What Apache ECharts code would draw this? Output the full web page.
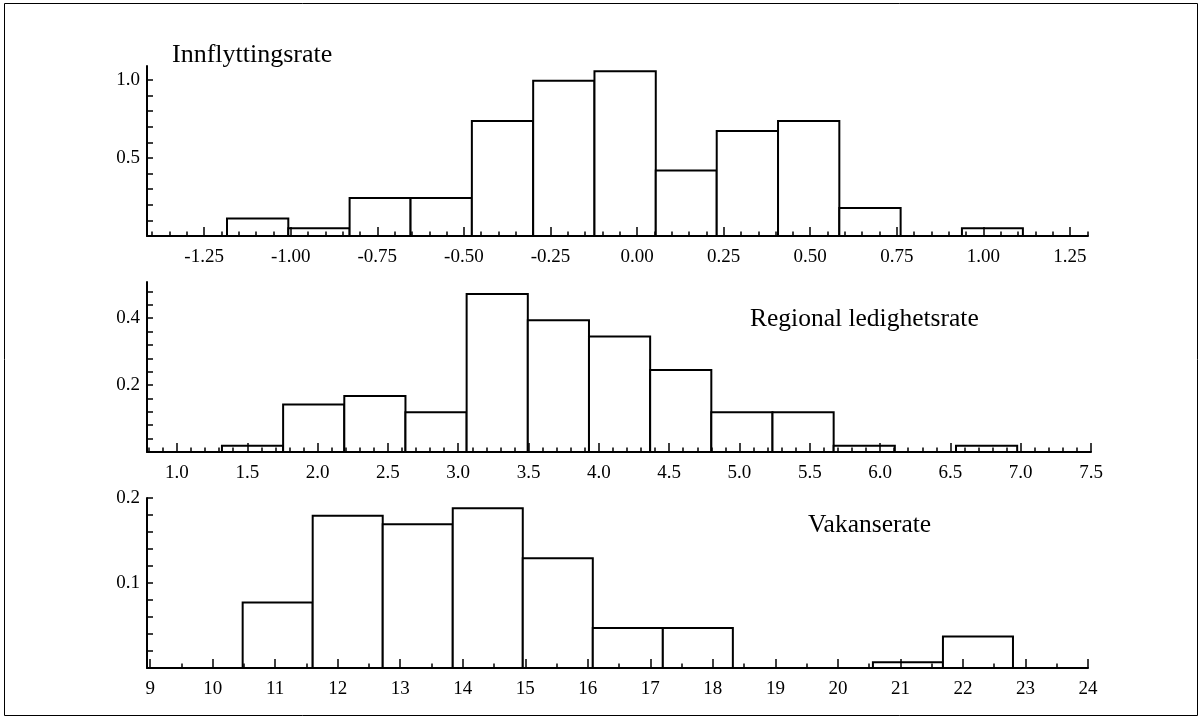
<!DOCTYPE html>
<html>
<head>
<meta charset="utf-8">
<script src="https://cdn.jsdelivr.net/npm/echarts@6/dist/echarts.min.js"></script>
<style>
html,body{margin:0;padding:0;background:#fff;}
#chart{width:1203px;height:720px;}
</style>
</head>
<body>
<div id="chart"></div>
<script>
// ---- Panel 1: Innflyttingsrate ----
const innflyttingEdges = [-1.184, -1.007, -0.830, -0.654, -0.477, -0.300, -0.123, 0.054, 0.230, 0.407, 0.584, 0.761, 0.938, 1.114];
const innflyttingDensity = [0.112, 0.049, 0.243, 0.243, 0.737, 0.995, 1.055, 0.419, 0.673, 0.737, 0.180, 0, 0.049];
const innflyttingXTicks = [-1.25, -1.00, -0.75, -0.50, -0.25, 0.00, 0.25, 0.50, 0.75, 1.00, 1.25];
const innflyttingYLabels = [0.5, 1.0];

// ---- Panel 2: Regional ledighetsrate ----
const ledighetEdges = [1.320, 1.755, 2.190, 2.625, 3.060, 3.495, 3.930, 4.365, 4.800, 5.235, 5.670, 6.105, 6.540, 6.975];
const ledighetDensity = [0.019, 0.142, 0.167, 0.119, 0.472, 0.394, 0.345, 0.245, 0.119, 0.119, 0.019, 0, 0.019];
const ledighetXTicks = [1.0, 1.5, 2.0, 2.5, 3.0, 3.5, 4.0, 4.5, 5.0, 5.5, 6.0, 6.5, 7.0, 7.5];
const ledighetYLabels = [0.2, 0.4];

// ---- Panel 3: Vakanserate ----
const vakanseEdges = [10.48, 11.60, 12.72, 13.84, 14.96, 16.08, 17.20, 18.32, 19.44, 20.56, 21.68, 22.80];
const vakanseDensity = [0.077, 0.179, 0.169, 0.188, 0.129, 0.047, 0.047, 0, 0, 0.0067, 0.037];
const vakanseXTicks = [9, 10, 11, 12, 13, 14, 15, 16, 17, 18, 19, 20, 21, 22, 23, 24];
const vakanseYLabels = [0.1, 0.2];

const panelTitles = ['Innflyttingsrate', 'Regional ledighetsrate', 'Vakanserate'];

function steps(from, to, step) {
  const out = [];
  const n = Math.round((to - from) / step);
  for (let i = 0; i <= n; i++) out.push(+(from + i * step).toFixed(6));
  return out;
}
function binsToData(edges, vals) {
  const d = [];
  for (let i = 0; i < vals.length; i++) {
    if (vals[i] > 0) d.push([edges[i], edges[i + 1], vals[i]]);
  }
  return d;
}

const FONT = 'Liberation Serif';
const panels = [
  { grid: {left: 147, top: 66, width: 941, height: 170}, xmin: -1.415, xmax: 1.302, major: innflyttingXTicks,
    minor: steps(-1.40, 1.30, 0.05), xdec: 2, ymax: 1.089, ylabels: innflyttingYLabels, yticks: steps(0.1, 1.0, 0.1),
    data: binsToData(innflyttingEdges, innflyttingDensity) },
  { grid: {left: 147, top: 282, width: 944, height: 170}, xmin: 0.787, xmax: 7.5, major: ledighetXTicks,
    minor: steps(0.8, 7.4, 0.1), xdec: 1, ymax: 0.508, ylabels: ledighetYLabels, yticks: steps(0.04, 0.48, 0.04),
    data: binsToData(ledighetEdges, ledighetDensity) },
  { grid: {left: 147, top: 498, width: 941, height: 170}, xmin: 8.95, xmax: 24, major: vakanseXTicks,
    minor: steps(9.0, 23.5, 0.5), xdec: 0, ymax: 0.2, ylabels: vakanseYLabels, yticks: steps(0.02, 0.2, 0.02),
    data: binsToData(vakanseEdges, vakanseDensity) }
];

const grid = [], xAxis = [], yAxis = [], series = [];
panels.forEach((p, i) => {
  grid.push(Object.assign({containLabel: false}, p.grid));
  // major x axis (line, labels, longer ticks)
  xAxis.push({
    type: 'value', gridIndex: i, position: 'bottom', min: p.xmin, max: p.xmax, z: 5,
    splitLine: {show: false},
    axisLine: {show: true, onZero: false, lineStyle: {color: '#000', width: 2}},
    axisTick: {show: true, inside: true, length: 9, customValues: p.major, lineStyle: {color: '#000', width: 1.5}},
    axisLabel: {show: true, customValues: p.major, margin: 12, color: '#000', fontFamily: FONT, fontSize: 19,
      formatter: v => Number(v).toFixed(p.xdec)}
  });
  // minor x ticks
  xAxis.push({
    type: 'value', gridIndex: i, position: 'bottom', min: p.xmin, max: p.xmax, z: 5,
    splitLine: {show: false},
    axisLine: {show: false, onZero: false},
    axisTick: {show: true, inside: true, length: 4.5, customValues: p.minor, lineStyle: {color: '#000', width: 1.5}},
    axisLabel: {show: false}
  });
  yAxis.push({
    type: 'value', gridIndex: i, position: 'left', min: 0, max: p.ymax, z: 5,
    splitLine: {show: false},
    axisLine: {show: true, onZero: false, lineStyle: {color: '#000', width: 2}},
    axisTick: {show: true, inside: true, length: 6, customValues: p.yticks, lineStyle: {color: '#000', width: 1.5}},
    axisLabel: {show: true, customValues: p.ylabels, margin: 7, color: '#000', fontFamily: FONT, fontSize: 19,
      formatter: v => Number(v).toFixed(1)}
  });
  series.push({
    type: 'custom', xAxisIndex: i * 2, yAxisIndex: i, z: 1,
    encode: {x: [0, 1], y: 2},
    data: p.data,
    renderItem: function (params, api) {
      const a = api.coord([api.value(0), 0]);
      const b = api.coord([api.value(1), api.value(2)]);
      return {
        type: 'rect',
        shape: {x: a[0], y: b[1], width: b[0] - a[0], height: a[1] - b[1]},
        style: {fill: '#fff', stroke: '#000', lineWidth: 2}
      };
    }
  });
});

const titleStyle = {color: '#000', fontFamily: FONT, fontSize: 25.5, fontWeight: 'normal'};
const option = {
  backgroundColor: '#fff',
  animation: false,
  title: [
    {text: panelTitles[0], left: 172, top: 42, padding: 0, textStyle: Object.assign({}, titleStyle, {fontSize: 26})},
    {text: panelTitles[1], left: 750, top: 306, padding: 0, textStyle: titleStyle},
    {text: panelTitles[2], left: 808, top: 512, padding: 0, textStyle: titleStyle}
  ],
  graphic: [{
    type: 'rect', silent: true, z: 0,
    shape: {x: 4.5, y: 3.5, width: 1193, height: 712},
    style: {fill: 'none', stroke: '#000', lineWidth: 1}
  }],
  grid: grid, xAxis: xAxis, yAxis: yAxis, series: series
};
const chart = echarts.init(document.getElementById('chart'), null, {renderer: 'canvas'});
chart.setOption(option);
</script>
</body>
</html>
